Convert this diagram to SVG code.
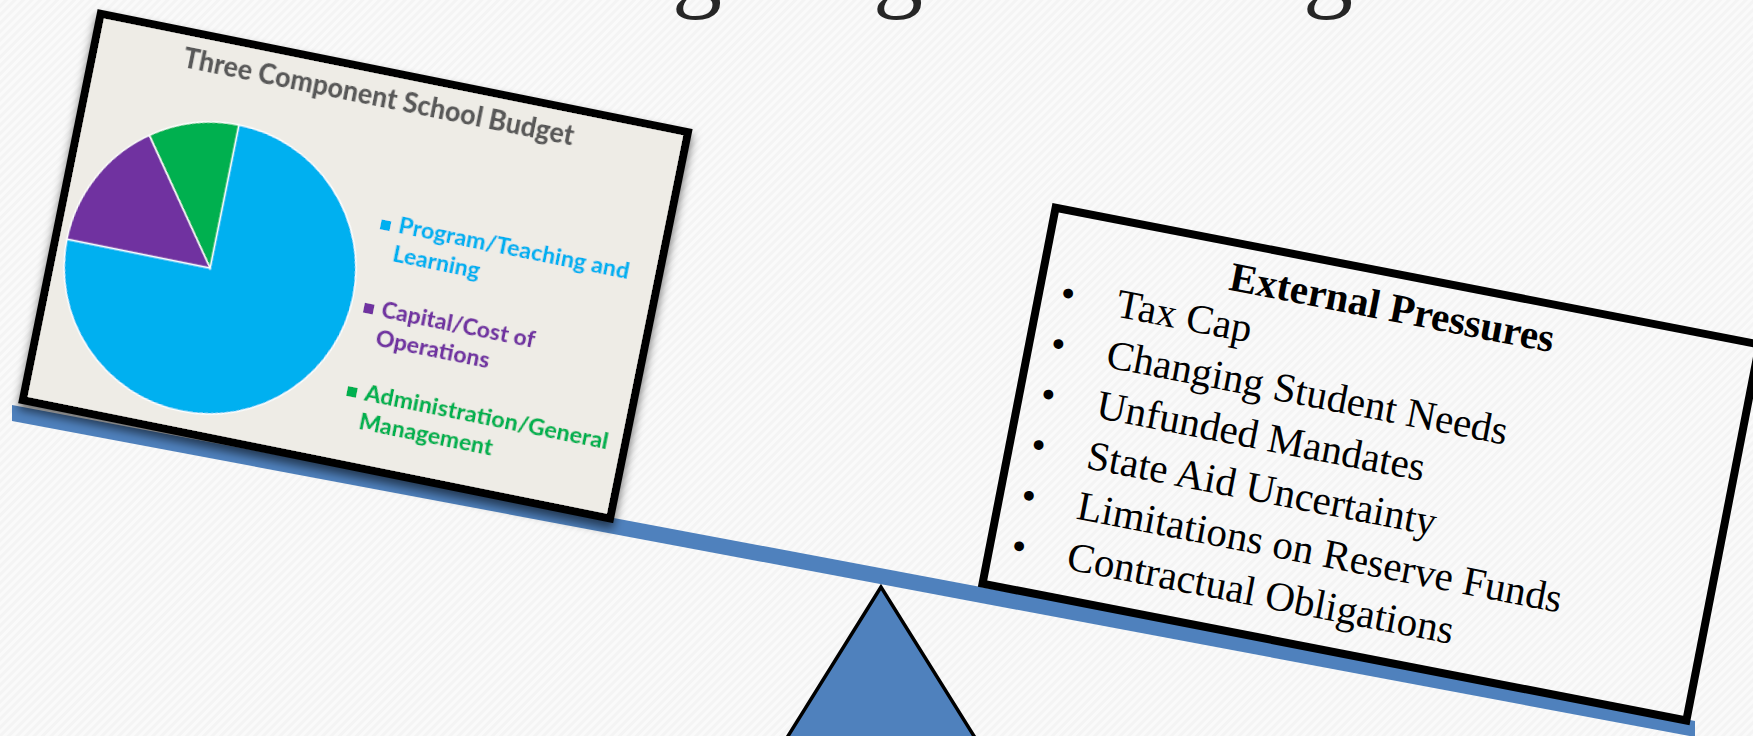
<svg xmlns="http://www.w3.org/2000/svg" width="1753" height="736" viewBox="0 0 1753 736">
  <defs>
    <pattern id="tex" width="6" height="6" patternUnits="userSpaceOnUse" patternTransform="rotate(45)">
      <rect width="6" height="6" fill="#f4f4f4"/>
      <rect width="3" height="6" fill="#fafafa"/>
    </pattern>
    <filter id="shadow" x="-10%" y="-10%" width="120%" height="125%">
      <feDropShadow dx="1" dy="6" stdDeviation="5" flood-color="#000" flood-opacity="0.55"/>
    </filter>
    <style>
      .frame { fill: none; stroke: #000; stroke-width: 8; }
      .chartbg { fill: #eeece6; stroke: #000; stroke-width: 8; }
      .slice { stroke: #ffffff; stroke-width: 1.5; }
      .ctitle { font-family: Lato, "Liberation Sans", sans-serif; font-weight: 900; font-size: 29px; fill: #595959; }
      .leg { font-family: Lato, "Liberation Sans", sans-serif; font-weight: 900; font-size: 23px; }
      .serif { font-family: "Liberation Serif", "DejaVu Serif", serif; font-size: 41px; fill: #000; }
      .head { font-weight: bold; font-size: 41px; }
      .title { font-family: "Liberation Serif", serif; font-size: 100px; fill: #262626; }
    </style>
  </defs>

  <rect width="1753" height="736" fill="url(#tex)"/>

  <g id="title">
    <text class="title" x="697" y="-1" text-anchor="middle">g</text>
    <text class="title" x="898" y="-1" text-anchor="middle">g</text>
    <text class="title" x="1328" y="-1" text-anchor="middle">g</text>
  </g>

  <g id="fulcrum">
    <polygon points="881,587 745,805 1017,805" fill="#4f81bd" stroke="#000" stroke-width="3.5" stroke-linejoin="miter"/>
  </g>

  <g id="beam">
    <polygon points="12,405 1695,721 1695,737 12,421" fill="#4f81bd"/>
  </g>

  <g id="budget-chart" transform="rotate(11.4 354.75 265.5)" filter="url(#shadow)">
    <rect class="chartbg" x="56" y="69" width="599" height="394"/>
    <text class="ctitle" x="146" y="105" textLength="398" lengthAdjust="spacingAndGlyphs">Three Component School Budget</text>
    <path class="slice" fill="#00b0f0" d="M213.4,296.6 L67.4,296.6 A146,146 0 1 0 213.4,150.6 Z"/>
    <path class="slice" fill="#00b050" d="M213.4,296.6 L213.4,150.6 A146,146 0 0 0 127.6,178.5 Z"/>
    <path class="slice" fill="#7030a0" d="M213.4,296.6 L127.6,178.5 A146,146 0 0 0 67.4,296.6 Z"/>
    <rect x="372" y="215" width="10" height="10" fill="#00b0f0"/>
    <text class="leg" fill="#00b0f0" x="390" y="225.5" textLength="235" lengthAdjust="spacingAndGlyphs">Program/Teaching and</text>
    <text class="leg" fill="#00b0f0" x="390" y="254.5">Learning</text>
    <rect x="372" y="300" width="10" height="10" fill="#7030a0"/>
    <text class="leg" fill="#7030a0" x="390" y="311" textLength="156" lengthAdjust="spacingAndGlyphs">Capital/Cost of</text>
    <text class="leg" fill="#7030a0" x="390" y="340">Operations</text>
    <rect x="372" y="385" width="10" height="10" fill="#00b050"/>
    <text class="leg" fill="#00b050" x="390" y="396" textLength="248" lengthAdjust="spacingAndGlyphs">Administration/General</text>
    <text class="leg" fill="#00b050" x="390" y="425">Management</text>
  </g>

  <g id="external-pressures" transform="rotate(11 1371 464)">
    <rect class="frame" x="1012.5" y="272.6" width="717" height="383"/>
    <text class="serif head" x="1362" y="320" text-anchor="middle">External Pressures</text>
    <g class="serif">
      <text x="1034" y="368">•</text>
      <text x="1091" y="368">Tax Cap</text>
      <text x="1034" y="419.5">•</text>
      <text x="1091" y="419.5">Changing Student Needs</text>
      <text x="1034" y="471">•</text>
      <text x="1091" y="471">Unfunded Mandates</text>
      <text x="1034" y="522.5">•</text>
      <text x="1091" y="522.5">State Aid Uncertainty</text>
      <text x="1034" y="574">•</text>
      <text x="1091" y="574">Limitations on Reserve Funds</text>
      <text x="1034" y="625.5">•</text>
      <text x="1091" y="625.5">Contractual Obligations</text>
    </g>
  </g>
</svg>
